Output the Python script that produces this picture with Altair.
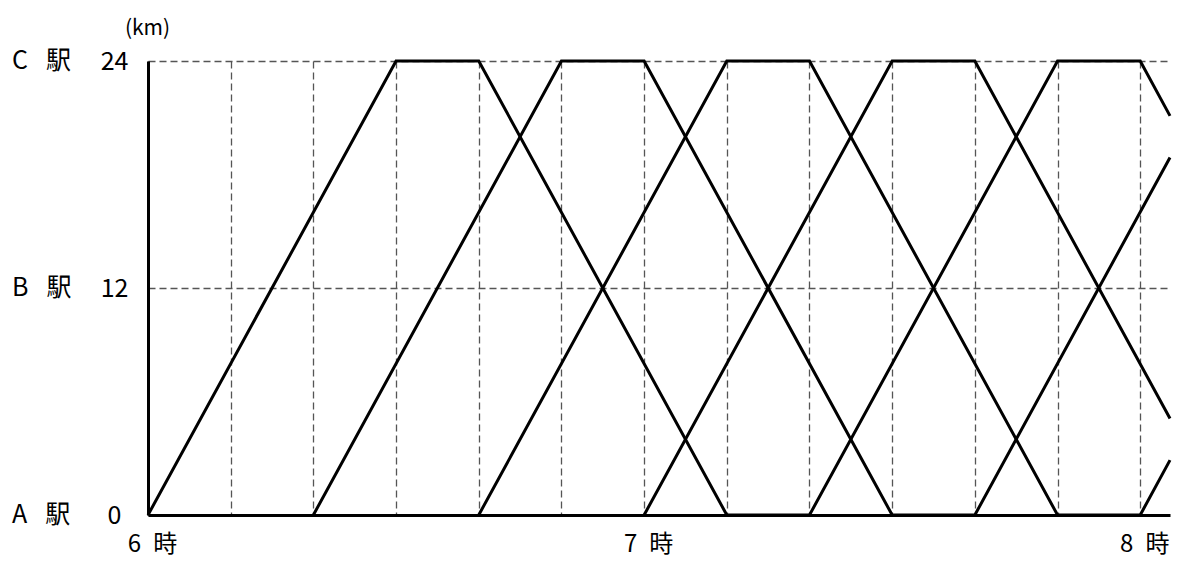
import altair as alt
import pandas as pd

# Train diagram data: minutes after 6:00 and distance from A station (km)
train1_t = [0, 30, 40, 70, 80, 110, 120, 123.6]
train1_km = [0, 24, 24, 0, 0, 24, 24, 21.1]
train2_t = [20, 50, 60, 90, 100, 123.6]
train2_km = [0, 24, 24, 0, 0, 18.9]
train3_t = [40, 70, 80, 110, 120, 123.6]
train3_km = [0, 24, 24, 0, 0, 2.9]
train4_t = [60, 90, 100, 123.6]
train4_km = [0, 24, 24, 5.1]

stations = ["A\u2002\u00a0駅", "B\u2002\u00a0駅", "C\u2002\u00a0駅"]
station_km = [0, 12, 24]
hour_ticks = [0, 60, 120]
hour_labels = ["6\u2002時", "7\u2002時", "8\u2002時"]
grid_minutes = list(range(0, 121, 10))

FONT = "Noto Sans CJK JP"

rows = []
for name, ts, ks in [("1", train1_t, train1_km), ("2", train2_t, train2_km),
                     ("3", train3_t, train3_km), ("4", train4_t, train4_km)]:
    for i, (t, k) in enumerate(zip(ts, ks)):
        rows.append({"train": name, "t": t, "km": k, "i": i})
df = pd.DataFrame(rows)
st = pd.DataFrame({"name": stations, "km": station_km})

label_expr = " : ".join(
    [f"datum.value == {v} ? '{l}'" for v, l in zip(hour_ticks, hour_labels)]
) + " : ''"

xscale = alt.Scale(domain=[0, 123.6], nice=False, zero=False)
yscale = alt.Scale(domain=[0, 24], nice=False)

grid_style = dict(grid=True, gridDash=[7, 4], gridColor="#555555", gridWidth=1.3)

lines = alt.Chart(df).mark_line(
    color="black", strokeWidth=3, strokeCap="butt", strokeJoin="miter"
).encode(
    x=alt.X("t:Q", scale=xscale, axis=alt.Axis(
        values=grid_minutes, labelExpr=label_expr, ticks=False, tickSize=0,
        domainColor="black", domainWidth=3, labelFont=FONT, labelFontSize=24,
        labelColor="black", labelPadding=29, labelBaseline="middle",
        labelOffset=4, labelFlush=False, labelOverlap=False, title=None,
        **grid_style)),
    y=alt.Y("km:Q", scale=yscale, axis=alt.Axis(
        values=station_km, ticks=False, tickSize=0, domainColor="black",
        domainWidth=3, labelFont=FONT, labelFontSize=25, labelColor="black",
        labelAlign="center", labelBaseline="middle", labelPadding=34,
        labelOverlap=False, title="(km)", titleAngle=0, titleX=-1, titleY=-33,
        titleAlign="center", titleBaseline="middle", titleFont=FONT,
        titleFontSize=21, titleFontWeight="normal", titleColor="black",
        **grid_style)),
    detail="train:N",
    order="i:Q",
)

names = alt.Chart(st).mark_text(
    align="left", baseline="middle", font=FONT, fontSize=25, color="black"
).encode(
    x=alt.value(-136),
    y=alt.Y("km:Q", scale=yscale),
    text="name:N",
)

chart = alt.layer(lines, names).properties(
    width=1022, height=454,
    padding={"left": 140, "top": 53, "right": 5, "bottom": 44},
    autosize=alt.AutoSizeParams(type="none"),
).configure_view(strokeWidth=0)

chart.save("out.html", embed_options={"renderer": "svg", "actions": False})
